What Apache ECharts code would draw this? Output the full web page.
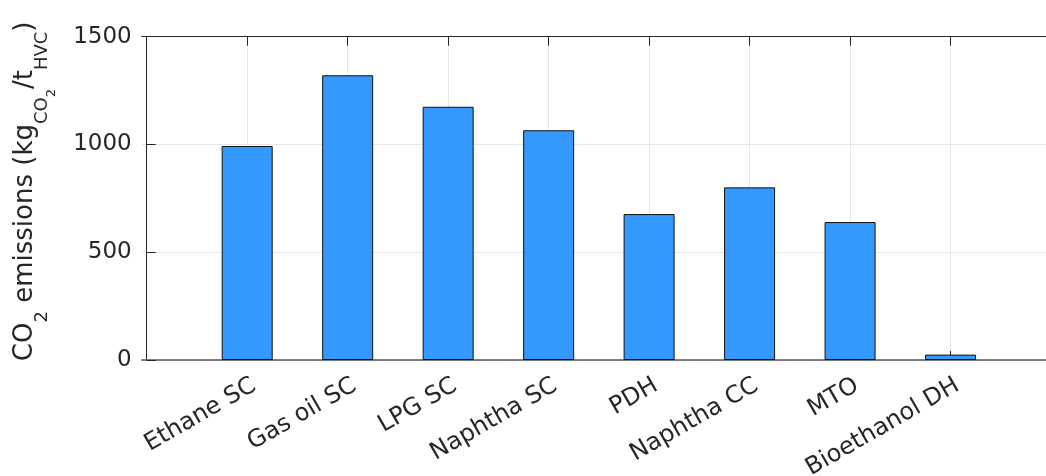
<!DOCTYPE html>
<html>
<head>
<meta charset="utf-8">
<script src="https://cdn.jsdelivr.net/npm/echarts@6/dist/echarts.min.js"></script>
<style>
  html, body { margin: 0; padding: 0; background: #fff; }
  #chart { width: 1046px; height: 476px; }
</style>
</head>
<body>
<div id="chart"></div>
<script>
const categories = ['Ethane SC', 'Gas oil SC', 'LPG SC', 'Naphtha SC', 'PDH', 'Naphtha CC', 'MTO', 'Bioethanol DH'];
const emissions = [993, 1321, 1175, 1066, 677, 801, 640, 25];
const yTicks = [0, 500, 1000, 1500];

const positions = categories.map((c, i) => i + 1);
const FONT = 'DejaVu Sans';
const TXT = '#262626';

const chart = echarts.init(document.getElementById('chart'));
chart.setOption({
  animation: false,
  backgroundColor: '#fff',
  grid: { left: 141.7, top: 36.7, right: 0, bottom: 116, outerBoundsMode: 'none', containLabel: false },
  xAxis: [{
    type: 'value',
    position: 'bottom',
    min: -0.05,
    max: 8.95,
    axisLine: { show: true, onZero: false, lineStyle: { color: '#555', width: 1.6 } },
    axisTick: { show: true, inside: true, length: 9, customValues: positions, lineStyle: { color: TXT, width: 1 } },
    axisLabel: {
      customValues: positions,
      rotate: 30,
      margin: 14,
      align: 'right',
      verticalAlign: 'top',
      fontFamily: FONT,
      fontSize: 24,
      color: TXT,
      padding: [0, -1, 0, 0],
      formatter: v => categories[Math.round(v) - 1] || ''
    },
    splitLine: { show: true, lineStyle: { color: '#e6e6e6', width: 1 } }
  }, {
    type: 'value',
    position: 'top',
    min: -0.05,
    max: 8.95,
    axisLine: { show: true, onZero: false, lineStyle: { color: TXT, width: 1 } },
    axisTick: { show: true, inside: true, length: 9, customValues: positions, lineStyle: { color: TXT, width: 1 } },
    axisLabel: { show: false },
    splitLine: { show: false }
  }],
  yAxis: {
    type: 'value',
    min: yTicks[0],
    max: yTicks[yTicks.length - 1],
    interval: 500,
    axisLine: { show: true, lineStyle: { color: TXT, width: 1 } },
    axisTick: { show: true, inside: true, length: 9, lineStyle: { color: TXT, width: 1 } },
    axisLabel: { margin: 10, fontFamily: FONT, fontSize: 23, color: TXT, formatter: v => String(v) },
    splitLine: { show: true, lineStyle: { color: '#e6e6e6', width: 1 } },
    name: '{m|CO}{s|2}{m| emissions (kg}{s|CO}{ss|2}{m|/t}{s|HVC}{m|)}',
    nameLocation: 'middle',
    nameRotate: 90,
    nameGap: 84,
    nameTextStyle: {
      fontFamily: FONT,
      color: TXT,
      padding: [0, 0, 0, 14],
      rich: {
        m:  { fontFamily: FONT, fontSize: 26, color: TXT, verticalAlign: 'top', padding: [0, 0, 0, 0] },
        s:  { fontFamily: FONT, fontSize: 18, color: TXT, verticalAlign: 'top', padding: [21, 0, 0, 0] },
        ss: { fontFamily: FONT, fontSize: 13, color: TXT, verticalAlign: 'top', padding: [32, 0, 0, 0] }
      }
    }
  },
  series: [{
    type: 'bar',
    xAxisIndex: 0,
    data: positions.map((p, i) => [p, emissions[i]]),
    barWidth: 51,
    itemStyle: { color: '#3399ff', borderColor: '#111', borderWidth: 1 }
  }]
});
</script>
</body>
</html>
